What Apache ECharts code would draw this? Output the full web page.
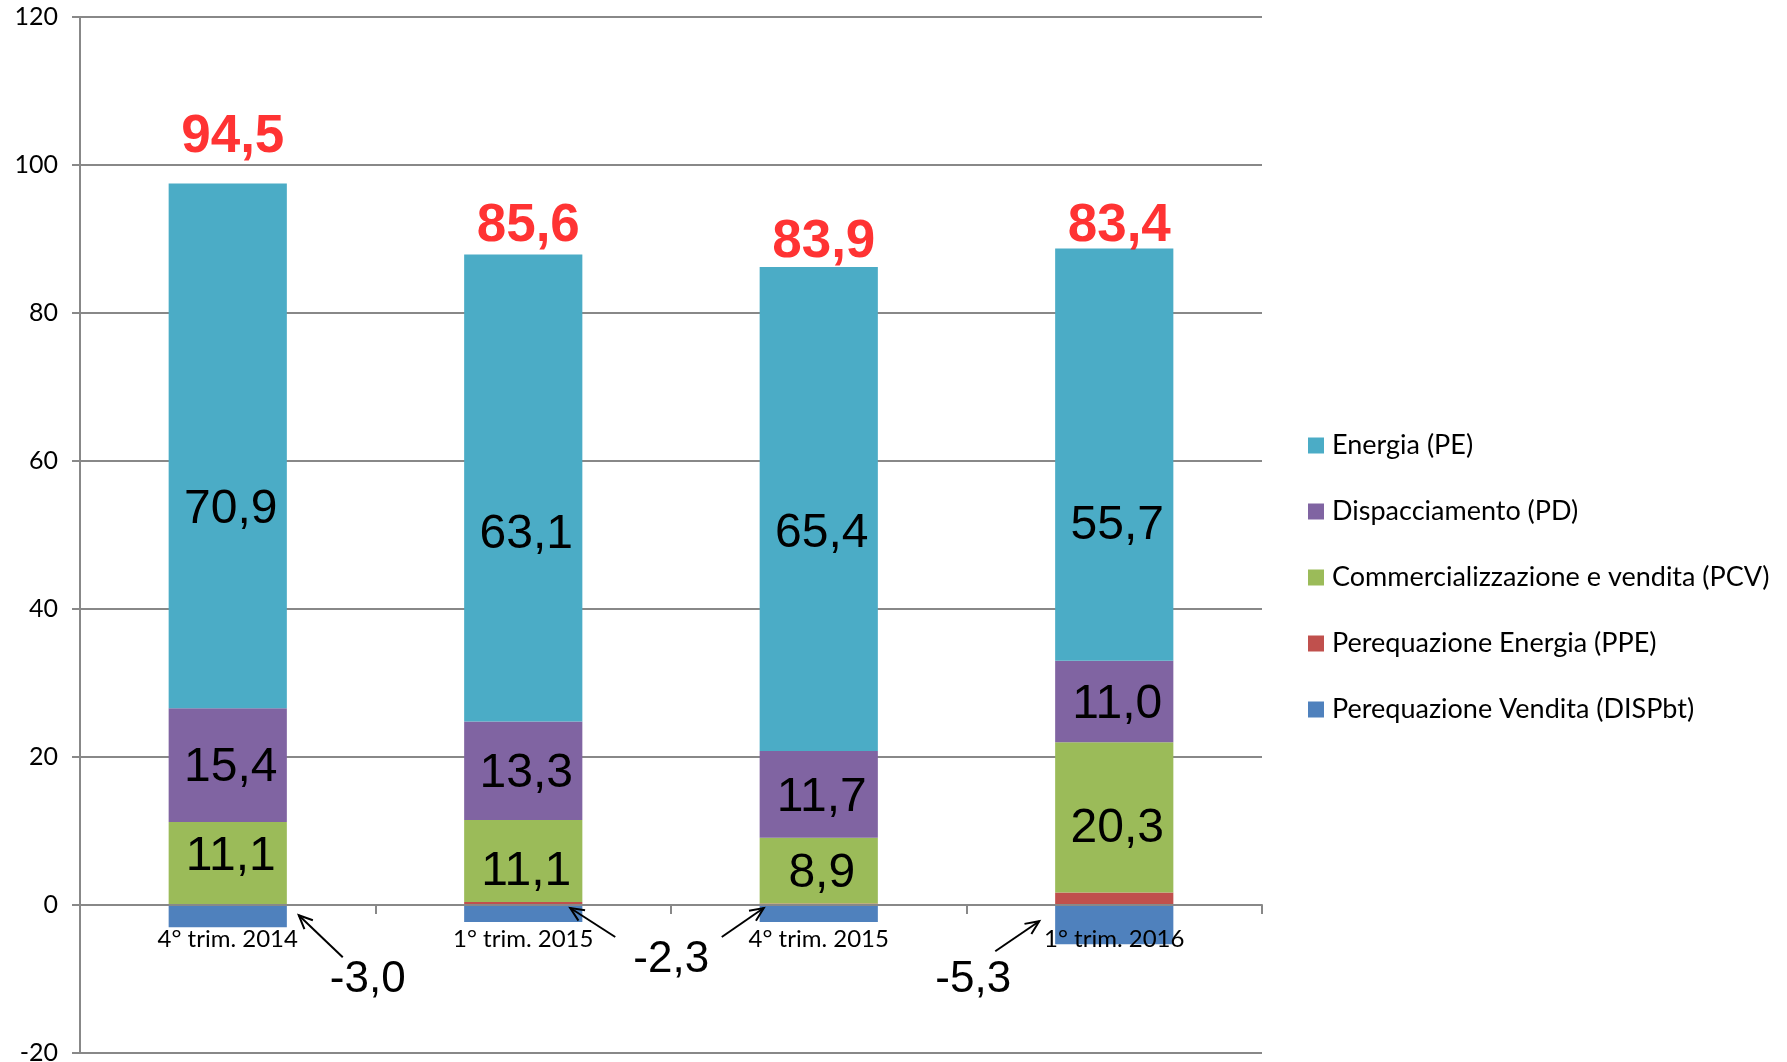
<!DOCTYPE html>
<html>
<head>
<meta charset="utf-8">
<title>Componenti del prezzo</title>
<script src="https://cdn.jsdelivr.net/npm/echarts@6/dist/echarts.min.js"></script>
<style>
  html, body { margin: 0; padding: 0; background: #ffffff; }
  #chart { width: 1787px; height: 1062px; }
</style>
</head>
<body>
<div id="chart"></div>
<script>
const categories = ['4° trim. 2014', '1° trim. 2015', '4° trim. 2015', '1° trim. 2016'];
const energia = [70.9, 63.1, 65.4, 55.7];
const dispacciamento = [15.4, 13.3, 11.7, 11.0];
const commercializzazione = [11.1, 11.1, 8.9, 20.3];
const perequazioneEnergia = [0.1, 0.4, 0.2, 1.7];
const perequazioneVendita = [-3.0, -2.3, -2.3, -5.3];
const totali = [94.5, 85.6, 83.9, 83.4];
const yTicks = [-20, 0, 20, 40, 60, 80, 100, 120];

const colors = {
  pe: '#4bacc6',
  pd: '#8064a2',
  pcv: '#9bbb59',
  ppe: '#c0504d',
  disp: '#4f81bd'
};

const numFont = '"Liberation Sans", Arial, sans-serif';
const textFont = 'Lato, "Open Sans", sans-serif';

function fmt(v) {
  return v.toFixed(1).replace('.', ',');
}

// label nudges (px) so the numbers sit where the original put them
const peShift = [64, 47, 25, 71];
const pdShift = [3, 3, 3, 3];
const pcvShift = [-6, 11, 3, 11];
const totalShift = [-46, -28, -25, -22];

const segLabel = {
  show: true,
  position: 'inside',
  fontFamily: numFont,
  fontSize: 48,
  color: '#000',
  formatter: (p) => fmt(p.value)
};

function withShift(values, shifts) {
  return values.map((v, i) => ({
    value: v,
    label: { offset: [3, shifts[i]] }
  }));
}

const dispLabels = [
  { show: true, offset: [140, 64] },
  { show: true, offset: [148, 46] },
  { show: false },
  { show: true, offset: [-141, 55] }
];

const tops = categories.map((_, i) =>
  energia[i] + dispacciamento[i] + commercializzazione[i] + perequazioneEnergia[i]
);

const chart = echarts.init(document.getElementById('chart'));

chart.setOption({
  animation: false,
  backgroundColor: '#ffffff',
  grid: { left: 80, right: 525, top: 17, bottom: 9, containLabel: false, outerBoundsMode: 'none' },
  legend: {
    orient: 'vertical',
    left: 1303,
    top: 427,
    itemWidth: 16,
    itemHeight: 16,
    itemGap: 39,
    icon: 'rect',
    data: [
      'Energia (PE)',
      'Dispacciamento (PD)',
      'Commercializzazione e vendita (PCV)',
      'Perequazione Energia (PPE)',
      'Perequazione Vendita (DISPbt)'
    ],
    textStyle: { fontFamily: textFont, fontSize: 27, color: '#000', lineHeight: 27, padding: [0, 0, 0, 3] }
  },
  xAxis: {
    type: 'category',
    data: categories,
    z: 5,
    axisLine: { onZero: false, lineStyle: { color: '#888', width: 2 } },
    axisTick: { show: true, length: 9, lineStyle: { color: '#888', width: 2 } },
    axisLabel: { margin: 22, fontFamily: textFont, fontSize: 24, color: '#000' },
    splitLine: { show: false }
  },
  yAxis: {
    type: 'value',
    min: yTicks[0],
    max: yTicks[yTicks.length - 1],
    interval: 20,
    axisLine: { show: true, lineStyle: { color: '#888', width: 2 } },
    axisTick: { show: true, length: 8, lineStyle: { color: '#888', width: 2 } },
    axisLabel: { margin: 22, fontFamily: textFont, fontSize: 25, color: '#000' },
    splitLine: { show: true, lineStyle: { color: '#888', width: 2 } }
  },
  series: [
    {
      name: 'Perequazione Vendita (DISPbt)',
      type: 'bar',
      stack: 'tot',
      barWidth: '40%',
      itemStyle: { color: colors.disp },
      label: Object.assign({}, segLabel, { fontSize: 44 }),
      data: perequazioneVendita.map((v, i) => ({ value: v, label: dispLabels[i] }))
    },
    {
      name: 'Perequazione Energia (PPE)',
      type: 'bar',
      stack: 'tot',
      itemStyle: { color: colors.ppe },
      data: perequazioneEnergia
    },
    {
      name: 'Commercializzazione e vendita (PCV)',
      type: 'bar',
      stack: 'tot',
      itemStyle: { color: colors.pcv },
      label: segLabel,
      data: withShift(commercializzazione, pcvShift)
    },
    {
      name: 'Dispacciamento (PD)',
      type: 'bar',
      stack: 'tot',
      itemStyle: { color: colors.pd },
      label: segLabel,
      data: withShift(dispacciamento, pdShift)
    },
    {
      name: 'Energia (PE)',
      type: 'bar',
      stack: 'tot',
      itemStyle: { color: colors.pe },
      label: segLabel,
      data: withShift(energia, peShift)
    },
    {
      name: 'Totale',
      type: 'scatter',
      symbolSize: 1,
      silent: true,
      itemStyle: { color: 'rgba(0,0,0,0)' },
      label: {
        show: true,
        position: 'inside',
        fontFamily: numFont,
        fontWeight: 'bold',
        fontSize: 53,
        color: '#ff0000'
      },
      data: tops.map((t, i) => ({
        value: [i, t],
        label: { formatter: fmt(totali[i]), offset: [5, totalShift[i]] }
      }))
    }
  ]
});

// move the category axis (line, ticks, labels) up to the zero line
const zeroY = chart.convertToPixel({ yAxisIndex: 0 }, 0);
const bottomY = chart.convertToPixel({ yAxisIndex: 0 }, yTicks[0]);
chart.setOption({ xAxis: { offset: zeroY - bottomY } });

// arrows from the negative labels to the bars (offsets from each bar's bottom centre)
const arrows = [
  { bar: 0, head: [71, -12], tail: [115, 30] },
  { bar: 1, head: [47, -14], tail: [92, 15] },
  { bar: 2, head: [-55, -14], tail: [-97, 15] },
  { bar: 3, head: [-75, -23], tail: [-119, 7] }
];

const graphics = [];
arrows.forEach((a) => {
  const base = chart.convertToPixel({ xAxisIndex: 0, yAxisIndex: 0 }, [a.bar, perequazioneVendita[a.bar]]);
  const hx = base[0] + a.head[0], hy = base[1] + a.head[1];
  const tx = base[0] + a.tail[0], ty = base[1] + a.tail[1];
  const ang = Math.atan2(hy - ty, hx - tx);
  const len = 15, spread = 0.42;
  const p1 = [hx - len * Math.cos(ang - spread), hy - len * Math.sin(ang - spread)];
  const p2 = [hx - len * Math.cos(ang + spread), hy - len * Math.sin(ang + spread)];
  graphics.push({
    type: 'line',
    shape: { x1: tx, y1: ty, x2: hx, y2: hy },
    style: { stroke: '#000', lineWidth: 2 },
    z: 10
  });
  graphics.push({
    type: 'polyline',
    shape: { points: [p1, [hx, hy], p2] },
    style: { stroke: '#000', lineWidth: 2, fill: null },
    z: 10
  });
});

chart.setOption({ graphic: graphics });
</script>
</body>
</html>
